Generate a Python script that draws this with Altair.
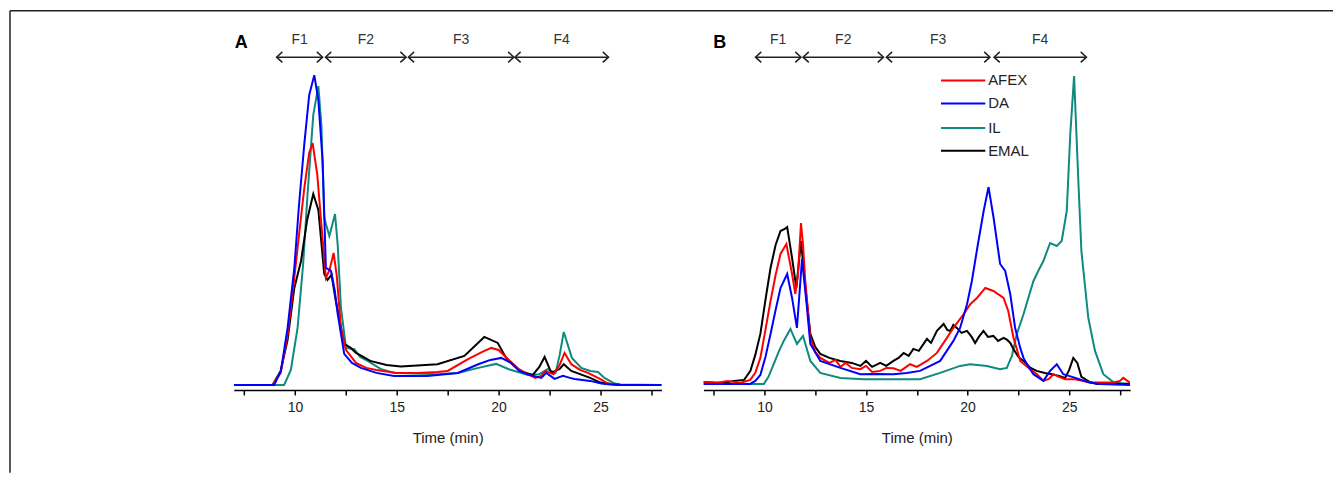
import altair as alt
import pandas as pd

SERIES = ["AFEX", "DA", "IL", "EMAL"]
COLORS = ["#FF0000", "#0000FF", "#0F8A80", "#000000"]
DRAW_ORDER = {"IL": 0, "EMAL": 1, "AFEX": 2, "DA": 3}

# ---------------- Panel A (time in min, signal in arbitrary units) ----------------
A_AFEX_T = [7, 8.9, 9.3, 9.64, 9.97, 10.2, 10.46, 10.7, 10.87, 11.1, 11.3, 11.52, 11.7, 11.9, 12.05, 12.26, 12.5, 13.0, 13.5, 14, 15, 16, 17, 17.5, 18.5, 19.2, 19.64, 20.0, 20.3, 21.0, 21.4, 21.8, 22.1, 22.3, 22.7, 23.0, 23.24, 23.57, 24.0, 24.39, 25.0, 25.37, 26, 28]
A_AFEX_V = [0, 0, 12, 50, 107, 150, 197, 232, 242, 210, 160, 107, 115, 132, 110, 57, 35, 22, 17, 15, 12, 12, 13, 14, 25.7, 33, 37, 35, 29, 15.7, 11, 7, 9, 14, 10.7, 20, 32, 20.7, 15, 12, 5.7, 1.3, 0, 0]

A_DA_T = [7, 8.98, 9.31, 9.64, 9.97, 10.2, 10.46, 10.7, 10.95, 11.15, 11.36, 11.52, 11.77, 11.95, 12.1, 12.42, 12.8, 13.24, 14, 14.87, 16.5, 18, 19.0, 19.6, 20.13, 20.6, 21.03, 21.5, 22.1, 22.34, 22.75, 23.16, 23.5, 23.73, 24.5, 25.04, 25.5, 26, 28]
A_DA_V = [0, 0, 14, 57, 117, 180, 241, 290, 310, 285, 224, 117, 114, 95, 71, 31, 22, 17, 12, 9, 9, 12, 20.7, 25, 27, 22, 14, 10, 7, 12, 6, 9, 7, 6, 4, 1.3, 0.5, 0, 0]

A_IL_T = [7, 9.47, 9.8, 10.13, 10.4, 10.62, 10.9, 11.15, 11.3, 11.44, 11.69, 11.97, 12.1, 12.26, 12.51, 12.92, 13.2, 13.57, 14.2, 14.88, 15, 17, 18, 19, 19.88, 20.5, 21.44, 22.0, 22.4, 22.8, 23.0, 23.2, 23.6, 24.06, 24.5, 24.88, 25.2, 25.7, 26, 28]
A_IL_V = [0, 0, 15, 57, 120, 191, 270, 299, 260, 167, 149, 171, 140, 77, 37, 35.7, 28, 24, 16, 12, 12, 10.7, 12, 17, 21, 15.7, 10, 10.7, 15.7, 12, 30, 53, 27, 17, 14, 13, 7, 1.3, 0.5, 0]

A_EMAL_T = [7, 8.9, 9.3, 9.64, 9.97, 10.3, 10.6, 10.9, 11.15, 11.44, 11.6, 11.8, 12.0, 12.42, 12.74, 13.0, 13.7, 14.5, 15.2, 17, 18.32, 19.3, 19.96, 20.37, 21.03, 21.68, 22.0, 22.26, 22.59, 23.0, 23.2, 23.57, 24.5, 25.0, 25.5, 26, 28]
A_EMAL_V = [0, 0, 14, 45, 97, 124, 165, 191, 175, 111, 105, 110, 85, 41, 37, 32, 24, 20, 18.3, 20.7, 29, 48, 42, 27, 14, 10, 18, 28, 12, 16, 20.7, 14, 7, 2.3, 1, 0, 0]

# ---------------- Panel B ----------------
B_AFEX_T = [7, 7.6, 8.2, 8.8, 9.3, 9.55, 9.8, 10.05, 10.3, 10.55, 10.79, 11.08, 11.36, 11.52, 11.65, 11.8, 11.9, 12.0, 12.26, 12.5, 12.75, 13.2, 13.5, 13.74, 14.0, 14.3, 14.72, 15.0, 15.3, 15.7, 16.0, 16.35, 16.7, 17.17, 17.5, 18.0, 18.49, 18.98, 19.3, 19.8, 20.13, 20.46, 20.87, 21.27, 21.77, 22.0, 22.26, 22.59, 23.08, 23.4, 23.73, 24.0, 24.22, 24.5, 24.8, 25.3, 26.03, 27.17, 27.5, 27.66, 28]
B_AFEX_V = [3, 2, 4, 2, 5, 12, 27, 55, 84, 110, 131, 141, 111, 91, 110, 162, 140, 107, 47, 33, 27, 22, 25, 18, 22, 17, 15.7, 19, 13, 14, 17, 16.7, 14, 20.7, 18, 24, 32, 47, 57, 70.7, 80.7, 87, 97, 94, 87, 74, 47, 24, 15.7, 11, 4, 6, 10.7, 8, 5.7, 5.7, 2.3, 2.3, 4, 7, 2]

B_DA_T = [7, 9.3, 9.55, 9.8, 10.05, 10.3, 10.55, 10.79, 11.12, 11.36, 11.6, 11.85, 12.06, 12.26, 12.75, 13.74, 14.72, 15.5, 16.35, 17.0, 17.66, 18.65, 19.3, 19.63, 19.97, 20.21, 20.5, 20.79, 21.03, 21.28, 21.6, 21.85, 22.1, 22.34, 22.59, 22.75, 23.0, 23.24, 23.73, 24.06, 24.39, 24.71, 25.3, 26.0, 26.5, 28]
B_DA_V = [1, 1, 4, 10, 28, 51, 75, 97, 111, 87, 57, 126, 84, 41, 24, 17, 10.7, 11, 10.7, 12, 14, 24, 44, 57, 80.7, 104, 140, 174, 198, 167, 121, 114, 90.7, 57, 37, 27, 18, 10.7, 4, 14, 20.7, 10.7, 7, 2.3, 1, 0]

B_IL_T = [7, 9.97, 10.2, 10.46, 10.7, 10.95, 11.28, 11.6, 11.9, 12.06, 12.26, 12.75, 13.74, 14.88, 16, 17.66, 18.65, 19.63, 20.13, 20.95, 21.6, 21.93, 22.18, 22.42, 22.75, 23.24, 23.5, 23.73, 24.06, 24.39, 24.63, 24.88, 25.05, 25.24, 25.45, 25.6, 25.94, 26.27, 26.68, 27.2, 28]
B_IL_V = [1, 1, 8, 21, 33, 44, 56, 41, 49, 38, 24, 12, 7, 5.7, 5.7, 5.7, 12, 19, 20.7, 19, 15.7, 17, 29, 50.7, 70.7, 104, 115, 124, 142, 139, 144, 174, 250, 309, 204, 134, 67, 34, 10.7, 2.3, 1]

B_EMAL_T = [7, 8, 8.5, 9.0, 9.31, 9.55, 9.8, 10.05, 10.3, 10.55, 10.79, 11.0, 11.12, 11.36, 11.57, 11.8, 12.0, 12.26, 12.5, 12.75, 13.2, 13.74, 14.3, 14.72, 15.0, 15.3, 15.7, 16.0, 16.35, 16.6, 16.85, 17.1, 17.33, 17.6, 18.0, 18.2, 18.49, 18.82, 19.0, 19.14, 19.3, 19.47, 19.7, 19.97, 20.2, 20.37, 20.55, 20.78, 21.0, 21.27, 21.5, 21.77, 21.95, 22.1, 22.26, 22.5, 22.75, 23.1, 23.4, 23.8, 24.14, 24.5, 24.8, 25.0, 25.2, 25.4, 25.6, 26.0, 26.36, 27, 27.5, 28]
B_EMAL_V = [3, 2, 4, 5, 14, 30, 51, 85, 117, 140, 154, 156, 158, 127, 97, 144, 100, 51, 38, 31, 27, 24, 22, 19, 24, 18, 22, 19, 24, 27, 32, 29, 36, 34, 46, 42, 54, 61, 55, 54, 60, 57, 52, 54, 48, 42, 48, 54, 48, 49, 44, 47, 45, 42, 35.7, 28, 24, 17, 14, 12, 10.7, 9, 7, 15, 27, 22, 8, 3, 1, 2, 1, 1]

# ---------------- Fractions (arrows above the traces) ----------------
FRAC_NAMES = ["F1", "F2", "F3", "F4"]
A_FRAC_START = [9.1, 11.5, 15.57, 20.8]
A_FRAC_END = [11.36, 15.46, 20.75, 25.4]
B_FRAC_START = [9.56, 11.9, 16.0, 21.3]
B_FRAC_END = [11.8, 15.86, 21.1, 25.85]
ARROW_LEVEL = 328
LABEL_LEVEL = 345

# legend rows (panel B)
LEGEND_LEVELS = [304.7, 281.7, 257, 234.3]
LEGEND_X = [18.69, 20.87, 21.01]

TICKS = [7.5, 10, 12.5, 15, 17.5, 20, 22.5, 25, 27.5]
X_DOMAIN = [7, 28]
Y_DOMAIN = [-5, 354]

FONT = "Liberation Sans"
INK = "#222222"

xs = alt.Scale(domain=X_DOMAIN, nice=False, zero=False)
ys = alt.Scale(domain=Y_DOMAIN, nice=False, zero=False)
cs = alt.Scale(domain=SERIES, range=COLORS)

xaxis = alt.Axis(
    values=TICKS, labelExpr="datum.value % 5 == 0 ? datum.label : ''",
    format="d", tickSize=5, tickWidth=1.5, tickColor="black",
    domainColor="black", domainWidth=1.5, grid=False,
    labelFont=FONT, labelFontSize=14, labelColor=INK, labelPadding=6,
    labelOverlap=False, labelFlush=False,
    title="Time (min)", titleFont=FONT, titleFontSize=15,
    titleFontWeight="normal", titleColor=INK, titlePadding=16,
)


def X(field):
    return alt.X(field, scale=xs, axis=xaxis)


def Y(field):
    return alt.Y(field, scale=ys, axis=None)


def panel(curves, starts, ends, letter, letter_x, width, with_legend=False, with_frame=False):
    rows = []
    for name, (t, v) in curves.items():
        for ti, vi in zip(t, v):
            rows.append({"series": name, "time": ti, "signal": vi, "k": DRAW_ORDER[name]})
    df = pd.DataFrame(rows)

    layers = []
    if with_frame:
        one = pd.DataFrame({"a": [0]})
        layers.append(alt.Chart(one).mark_rule(color=INK, strokeWidth=1.5).encode(
            x=alt.value(-224), x2=alt.value(1100), y=alt.value(-20.5)))
        layers.append(alt.Chart(one).mark_rule(color=INK, strokeWidth=1.5).encode(
            x=alt.value(-224), y=alt.value(-20.5), y2=alt.value(442)))

    for name in sorted(curves, key=lambda n: DRAW_ORDER[n]):
        sub = df[df.series == name]
        layers.append(alt.Chart(sub).mark_line(strokeWidth=2, clip=True).encode(
            x=X("time:Q"), y=Y("signal:Q"),
            color=alt.Color("series:N", scale=cs, legend=None),
            order="time:Q"))

    fr = pd.DataFrame({"name": FRAC_NAMES, "start": starts, "end": ends})
    fr["mid"] = (fr.start + fr.end) / 2
    fr["y"] = ARROW_LEVEL
    fr["ly"] = LABEL_LEVEL
    base = alt.Chart(fr)
    layers.append(base.mark_rule(color=INK, strokeWidth=1.5).encode(
        x=X("start:Q"), x2="end:Q", y=Y("y:Q")))
    layers.append(base.mark_point(shape="M1.1,-1L0,0L1.1,1", size=110, filled=False,
                                  strokeWidth=1.5, color=INK, opacity=1).encode(
        x=X("start:Q"), y=Y("y:Q")))
    layers.append(base.mark_point(shape="M-1.1,-1L0,0L-1.1,1", size=110, filled=False,
                                  strokeWidth=1.5, color=INK, opacity=1).encode(
        x=X("end:Q"), y=Y("y:Q")))
    layers.append(base.mark_text(font=FONT, fontSize=14, color="#333333", baseline="middle").encode(
        x=X("mid:Q"), y=Y("ly:Q"), text="name:N"))

    lt = pd.DataFrame({"t": [letter], "x": [letter_x], "y": [342]})
    layers.append(alt.Chart(lt).mark_text(font=FONT, fontSize=18, fontWeight="bold", color="black",
                                          align="left", baseline="middle").encode(
        x=X("x:Q"), y=Y("y:Q"), text="t:N"))

    if with_legend:
        lg = pd.DataFrame({"series": SERIES, "y": LEGEND_LEVELS,
                           "x1": LEGEND_X[0], "x2": LEGEND_X[1], "xt": LEGEND_X[2]})
        lb = alt.Chart(lg)
        layers.append(lb.mark_rule(strokeWidth=2).encode(
            x=X("x1:Q"), x2="x2:Q", y=Y("y:Q"),
            color=alt.Color("series:N", scale=cs, legend=None)))
        layers.append(lb.mark_text(font=FONT, fontSize=15, color=INK, align="left",
                                   baseline="middle").encode(
            x=X("xt:Q"), y=Y("y:Q"), text="series:N"))

    return alt.layer(*layers).properties(width=width, height=359)


panel_a = panel({"AFEX": (A_AFEX_T, A_AFEX_V), "DA": (A_DA_T, A_DA_V),
                 "IL": (A_IL_T, A_IL_V), "EMAL": (A_EMAL_T, A_EMAL_V)},
                A_FRAC_START, A_FRAC_END, "A", 7.05, 428, with_frame=True)
panel_b = panel({"AFEX": (B_AFEX_T, B_AFEX_V), "DA": (B_DA_T, B_DA_V),
                 "IL": (B_IL_T, B_IL_V), "EMAL": (B_EMAL_T, B_EMAL_V)},
                B_FRAC_START, B_FRAC_END, "B", 7.48, 427, with_legend=True)

chart = alt.hconcat(panel_a, panel_b, spacing=42, bounds="flush").properties(
    padding={"left": 1, "top": 1, "right": 0, "bottom": 0}
).configure(font=FONT).configure_view(stroke=None)

chart.save("out.html", embed_options={"renderer": "svg", "actions": False})
